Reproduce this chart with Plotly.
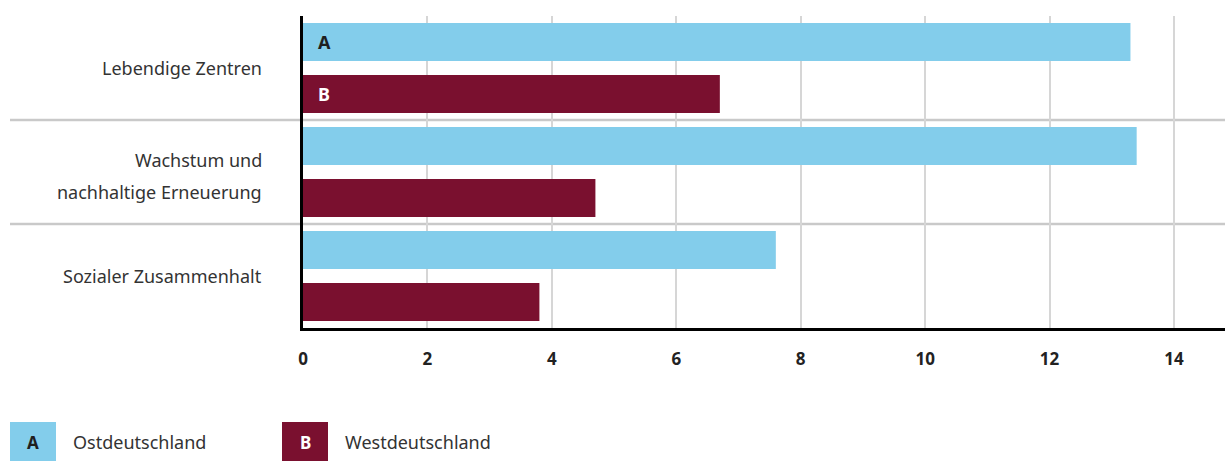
import plotly.graph_objects as go

categories = ["Lebendige Zentren", "Wachstum und nachhaltige Erneuerung", "Sozialer Zusammenhalt"]
category_lines = [["Lebendige Zentren"], ["Wachstum und", "nachhaltige Erneuerung"], ["Sozialer Zusammenhalt"]]
ost_values = [13.3, 13.4, 7.6]
west_values = [6.7, 4.7, 3.8]
series_names = ["Ostdeutschland", "Westdeutschland"]
series_letters = ["A", "B"]
x_ticks = [0, 2, 4, 6, 8, 10, 12, 14]

W, H = 1225, 461
ML, MR, MT, MB = 303, 0, 16, 133
PW = W - ML - MR
PH = H - MT - MB

BLUE = "#83CDEB"
RED = "#7A102F"
FONT = "Noto Sans"

fig = go.Figure()
bar_w = 0.365
offsets = [-0.5 + 0.067, -0.5 + 0.567]
colors = [BLUE, RED]
for i, (vals, name) in enumerate(zip([ost_values, west_values], series_names)):
    fig.add_trace(go.Bar(
        y=categories, x=vals, orientation="h", name=name,
        marker=dict(color=colors[i], line=dict(width=0)),
        width=bar_w, offset=offsets[i], showlegend=False,
        hoverinfo="x+y",
    ))

# letters inside first bars
letter_colors = ["#1f1f1f", "#ffffff"]
for i in range(2):
    fig.add_annotation(
        x=0, y=offsets[i] + bar_w / 2, xref="x", yref="y",
        text="<b>%s</b>" % series_letters[i], showarrow=False,
        xanchor="left", yanchor="middle", xshift=13,
        font=dict(family=FONT, size=18, color=letter_colors[i]),
    )

# category labels
label_right_px = 264
for ci, lines in enumerate(category_lines):
    n = len(lines)
    for li, line in enumerate(lines):
        shift = (li - (n - 1) / 2) * 32
        fig.add_annotation(
            x=(label_right_px - ML) / PW, xref="paper",
            y=ci, yref="y", yshift=-shift - (4 if n > 1 else 0),
            text=line, showarrow=False, xanchor="right", yanchor="middle",
            font=dict(family=FONT, size=18, color="#333333"),
        )

# separators between categories
for k in range(len(categories) - 1):
    fig.add_shape(
        type="line", xref="paper", yref="y",
        x0=(10 - ML) / PW, x1=1, y0=k + 0.5, y1=k + 0.5,
        line=dict(color="#c9c9c9", width=2.5), layer="below",
    )

# legend
leg_items = [(10, 71), (282, 343)]
for i, (bx, tx) in enumerate(leg_items):
    fig.add_shape(
        type="rect", xref="paper", yref="paper",
        x0=(bx - ML) / PW, x1=(bx + 46 - ML) / PW,
        y0=-(422 - (H - MB)) / PH, y1=-(461 - (H - MB)) / PH,
        fillcolor=colors[i], line=dict(width=0),
    )
    fig.add_annotation(
        x=(bx + 23 - ML) / PW, xref="paper", y=-(442 - (H - MB)) / PH, yref="paper",
        text="<b>%s</b>" % series_letters[i], showarrow=False,
        xanchor="center", yanchor="middle",
        font=dict(family=FONT, size=17, color=letter_colors[i]),
    )
    fig.add_annotation(
        x=(tx - ML) / PW, xref="paper", y=-(442 - (H - MB)) / PH, yref="paper",
        text=series_names[i], showarrow=False,
        xanchor="left", yanchor="middle",
        font=dict(family=FONT, size=18, color="#333333"),
    )

fig.update_layout(
    width=W, height=H,
    margin=dict(l=ML, r=MR, t=MT, b=MB, pad=0),
    paper_bgcolor="white", plot_bgcolor="white",
    barmode="overlay",
    xaxis=dict(
        range=[0, PW / ((1174 - ML) / 14)],
        tickvals=x_ticks, ticktext=[str(v) for v in x_ticks],
        showgrid=True, gridcolor="#d6d6d6", gridwidth=1.5,
        zeroline=False, showline=True, linecolor="black", linewidth=3,
        ticks="", ticklabelstandoff=14,
        tickfont=dict(family=FONT, size=17, color="#222222", weight="bold"),
        fixedrange=True,
    ),
    yaxis=dict(
        type="category", categoryarray=categories, range=[2.5, -0.5],
        showgrid=False, zeroline=False, showline=True, linecolor="black", linewidth=3,
        showticklabels=False, ticks="", fixedrange=True,
    ),
    showlegend=False,
)

fig.write_html(
    "out.html",
    config={"displayModeBar": False},
    post_script="document.body.style.margin='0';document.body.style.overflow='hidden';",
)
